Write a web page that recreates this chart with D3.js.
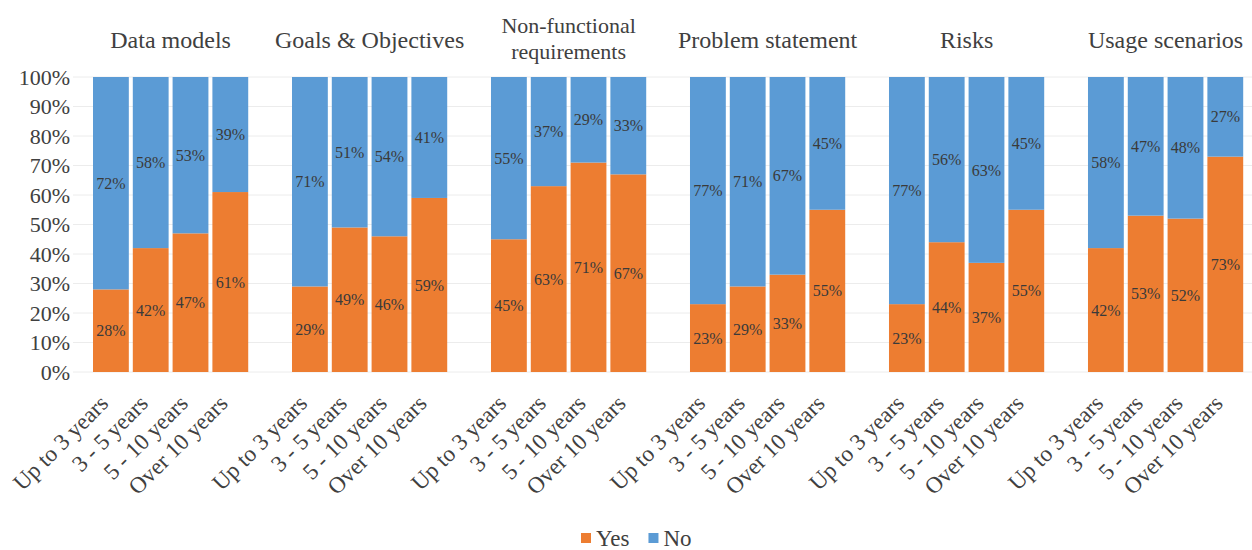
<!DOCTYPE html>
<html>
<head>
<meta charset="utf-8">
<script src="https://cdn.jsdelivr.net/npm/d3@7"></script>
<style>
  html, body { margin: 0; padding: 0; background: #fff; }
  svg text { font-family: "Liberation Serif", "Times New Roman", "DejaVu Serif", serif; }
</style>
</head>
<body>
<svg id="chart" width="1252" height="550"></svg>
<script>
// Share of respondents answering Yes / No, by topic and experience band
const topics = ["Data models", "Goals & Objectives", "Non-functional requirements", "Problem statement", "Risks", "Usage scenarios"];
const topicLines = [["Data models"], ["Goals & Objectives"], ["Non-functional", "requirements"], ["Problem statement"], ["Risks"], ["Usage scenarios"]];
const experience = ["Up to 3 years", "3 - 5 years", "5 - 10 years", "Over 10 years"];
const yesValues = [
  [28, 42, 47, 61],
  [29, 49, 46, 59],
  [45, 63, 71, 67],
  [23, 29, 33, 55],
  [23, 44, 37, 55],
  [42, 53, 52, 73]
];
const noValues = [
  [72, 58, 53, 39],
  [71, 51, 54, 41],
  [55, 37, 29, 33],
  [77, 71, 67, 45],
  [77, 56, 63, 45],
  [58, 47, 48, 27]
];
const yTicks = [0, 10, 20, 30, 40, 50, 60, 70, 80, 90, 100];
const seriesNames = ["Yes", "No"];
const colors = { Yes: "#ed7d31", No: "#5b9bd5" };
const serif = "'Liberation Serif', 'Times New Roman', 'DejaVu Serif', serif";

const svg = d3.select("#chart");
const plot = { left: 73, right: 1252, top: 77, bottom: 372 };

// Each topic occupies five slots: four bars plus one empty spacer slot
const slots = [];
topics.forEach((t, ti) => {
  experience.forEach((e, ei) => slots.push(ti + "|" + ei));
  slots.push(ti + "|gap");
});
const x = d3.scaleBand().domain(slots).range([93, 1283]).paddingInner(0.1).paddingOuter(0);
const y = d3.scaleLinear().domain([0, 100]).range([plot.bottom, plot.top]);

// Horizontal gridlines
svg.append("g")
  .selectAll("line")
  .data(yTicks)
  .join("line")
  .attr("x1", plot.left).attr("x2", plot.right)
  .attr("y1", d => y(d)).attr("y2", d => y(d))
  .attr("stroke", "#ececec").attr("stroke-width", 1);

// Y axis tick labels
const yAxis = d3.axisLeft(y).tickValues(yTicks).tickFormat(d => d + "%").tickSize(0).tickPadding(3);
const yg = svg.append("g").attr("transform", `translate(${plot.left},0)`).call(yAxis);
yg.attr("font-family", serif);
yg.select(".domain").remove();
yg.selectAll("text").attr("font-family", serif).attr("font-size", 22).attr("fill", "#404040");

// Stacked bars
const rows = [];
topics.forEach((t, ti) => {
  experience.forEach((e, ei) => {
    const yes = yesValues[ti][ei], no = noValues[ti][ei];
    rows.push({ key: ti + "|" + ei, series: "Yes", y0: 0, y1: yes, v: yes });
    rows.push({ key: ti + "|" + ei, series: "No", y0: yes, y1: yes + no, v: no });
  });
});

svg.append("g")
  .selectAll("rect")
  .data(rows)
  .join("rect")
  .attr("x", d => x(d.key))
  .attr("width", x.bandwidth())
  .attr("y", d => y(d.y1))
  .attr("height", d => y(d.y0) - y(d.y1))
  .attr("fill", d => colors[d.series]);

// Value labels centred in each segment
svg.append("g")
  .selectAll("text")
  .data(rows)
  .join("text")
  .attr("x", d => x(d.key) + x.bandwidth() / 2)
  .attr("y", d => y((d.y0 + d.y1) / 2))
  .attr("dy", "0.35em")
  .attr("text-anchor", "middle")
  .attr("font-family", serif)
  .attr("font-size", 16)
  .attr("fill", "#3a3a3a")
  .text(d => d.v + "%");

// Rotated category labels
const xLabels = [];
topics.forEach((t, ti) => experience.forEach((e, ei) => xLabels.push({ key: ti + "|" + ei, text: e })));
svg.append("g")
  .selectAll("text")
  .data(xLabels)
  .join("text")
  .attr("transform", d => `translate(${x(d.key) + x.bandwidth() / 2 - 7},${plot.bottom + 27}) rotate(-45)`)
  .attr("text-anchor", "end")
  .attr("dy", "0.35em")
  .attr("font-family", serif)
  .attr("font-size", 23)
  .attr("fill", "#404040")
  .text(d => d.text);

// Topic titles above each group; two-line titles are set a little smaller
const titleG = svg.append("g");
topics.forEach((t, ti) => {
  const first = x(ti + "|0");
  const last = x(ti + "|3") + x.bandwidth();
  const cx = (first + last) / 2;
  const lines = topicLines[ti];
  const twoLine = lines.length > 1;
  const text = titleG.append("text")
    .attr("x", cx)
    .attr("text-anchor", "middle")
    .attr("font-family", serif)
    .attr("font-size", twoLine ? 22 : 24)
    .attr("fill", "#404040");
  const baseY = twoLine ? 33 : 48;
  lines.forEach((ln, li) => {
    text.append("tspan").attr("x", cx).attr("y", baseY + li * 26).text(ln);
  });
});

// Legend
const legend = svg.append("g").attr("transform", "translate(581,538)");
let lx = 0;
seriesNames.forEach(name => {
  legend.append("rect").attr("x", lx).attr("y", -5).attr("width", 10).attr("height", 10).attr("fill", colors[name]);
  const t = legend.append("text").attr("x", lx + 15).attr("y", 0).attr("dy", "0.35em")
    .attr("font-family", serif)
    .attr("font-size", 23).attr("fill", "#404040").text(name);
  lx += 15 + t.node().getComputedTextLength() + 19;
});
</script>
</body>
</html>
